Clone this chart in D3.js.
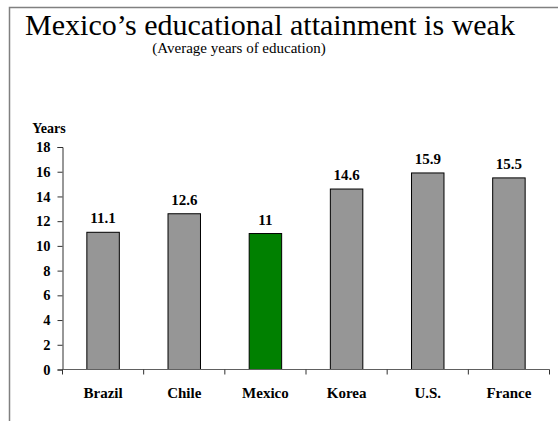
<!DOCTYPE html>
<html>
<head>
<meta charset="utf-8">
<script src="https://cdn.jsdelivr.net/npm/d3@7"></script>
<style>
body { margin: 0; background: #fff; }
</style>
</head>
<body>
<svg id="chart"></svg>
<script>
var countries = ["Brazil", "Chile", "Mexico", "Korea", "U.S.", "France"];
var years = [11.1, 12.6, 11, 14.6, 15.9, 15.5];
var yTicks = [0, 2, 4, 6, 8, 10, 12, 14, 16, 18];
var highlight = "Mexico";

var serif = "'Liberation Serif', 'Times New Roman', Times, serif";
var width = 558, height = 421;
var svg = d3.select("#chart").attr("width", width).attr("height", height)
	.style("font-family", serif);

// frame lines (top and left)
svg.append("path")
	.attr("d", "M9.5,421V7.5H558")
	.attr("fill", "none")
	.attr("stroke", "#808080")
	.attr("stroke-width", 1.5);

svg.append("text")
	.attr("x", 270).attr("y", 35)
	.attr("text-anchor", "middle")
	.style("font-family", serif)
	.style("font-size", "30px")
	.text("Mexico\u2019s educational attainment is weak");

svg.append("text")
	.attr("x", 239).attr("y", 53)
	.attr("text-anchor", "middle")
	.style("font-family", serif)
	.style("font-size", "15px")
	.text("(Average years of education)");

var x = d3.scaleBand()
	.domain(countries)
	.range([62.5, 549.5])
	.paddingInner(0.6)
	.paddingOuter(0.3);

var y = d3.scaleLinear()
	.domain([0, 18])
	.range([369.5, 147]);

var yAxis = svg.append("g")
	.attr("transform", "translate(62.5,0)")
	.call(d3.axisLeft(y).tickValues(yTicks).tickSize(5).tickPadding(7).tickFormat(d3.format("d")));
yAxis.attr("font-family", null).attr("font-size", null);
yAxis.selectAll("text")
	.style("font-family", serif)
	.style("font-weight", "bold")
	.style("font-size", "14.5px")
	.attr("fill", "#000");
yAxis.selectAll("line, path").attr("stroke", "#303030");

svg.append("text")
	.attr("x", 49).attr("y", 133)
	.attr("text-anchor", "middle")
	.style("font-family", serif)
	.style("font-weight", "bold")
	.style("font-size", "14px")
	.text("Years");

svg.selectAll(".bar")
	.data(countries)
	.enter()
	.append("rect")
	.classed("bar", true)
	.attr("x", d => x(d))
	.attr("width", x.bandwidth())
	.attr("y", (d, i) => y(years[i]))
	.attr("height", (d, i) => y(0) - y(years[i]))
	.attr("fill", d => d === highlight ? "#008000" : "#969696")
	.attr("stroke", "#000")
	.attr("stroke-width", 1);

svg.selectAll(".val")
	.data(countries)
	.enter()
	.append("text")
	.classed("val", true)
	.attr("x", d => x(d) + x.bandwidth() / 2)
	.attr("y", (d, i) => y(years[i]) - 9)
	.attr("text-anchor", "middle")
	.style("font-family", serif)
	.style("font-weight", "bold")
	.style("font-size", "15px")
	.text((d, i) => years[i]);

// x axis with ticks at category boundaries
var x0 = 62.5, x1 = 549.5;
svg.append("line")
	.attr("x1", x0).attr("x2", x1)
	.attr("y1", y(0)).attr("y2", y(0))
	.attr("stroke", "#606060");
var bounds = d3.range(countries.length + 1).map(i => x0 + i * (x1 - x0) / countries.length);
svg.selectAll(".xtick")
	.data(bounds)
	.enter()
	.append("line")
	.attr("x1", d => d).attr("x2", d => d)
	.attr("y1", y(0)).attr("y2", y(0) + 5)
	.attr("stroke", "#303030");

svg.selectAll(".cat")
	.data(countries)
	.enter()
	.append("text")
	.attr("x", d => x(d) + x.bandwidth() / 2)
	.attr("y", 398)
	.attr("text-anchor", "middle")
	.style("font-family", serif)
	.style("font-weight", "bold")
	.style("font-size", "15px")
	.text(d => d);
</script>
</body>
</html>
